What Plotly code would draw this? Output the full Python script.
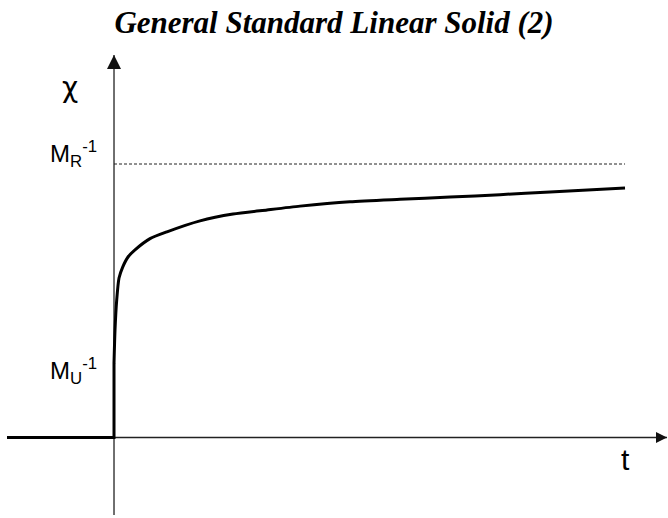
import plotly.graph_objects as go

# Creep compliance curve chi(t) (t in arbitrary units, chi normalised so that 1/M_R = 1)
t_vals = [-2.094, 0.0, 0.0, 0.0196, 0.053, 0.098, 0.170, 0.274, 0.411, 0.705, 1.037,
          1.683, 2.329, 2.994, 3.640, 4.618, 5.597, 6.575, 7.554, 8.532, 10.0]
chi_vals = [0.0, 0.0, 0.272, 0.393, 0.503, 0.583, 0.623, 0.660, 0.686, 0.727, 0.752,
            0.792, 0.817, 0.832, 0.846, 0.862, 0.871, 0.879, 0.888, 0.898, 0.912]

M_R_inv = 1.0      # relaxed compliance level
M_U_inv = 0.247    # unrelaxed compliance level
t_max = 10.0

x_axis_span = [-2.094, 10.822]
y_axis_span = [-0.283, 1.3985]

fig = go.Figure()

# axes lines
fig.add_trace(go.Scatter(x=x_axis_span, y=[0, 0], mode="lines",
                         line=dict(color="#222222", width=1.3),
                         hoverinfo="skip", showlegend=False))
fig.add_trace(go.Scatter(x=[0, 0], y=y_axis_span, mode="lines",
                         line=dict(color="#222222", width=1.3),
                         hoverinfo="skip", showlegend=False))
# arrow heads
fig.add_trace(go.Scatter(x=[x_axis_span[1]], y=[0], mode="markers",
                         marker=dict(symbol="arrow-right", size=11, color="#111111",
                                     line=dict(width=0)),
                         hoverinfo="skip", showlegend=False))
fig.add_trace(go.Scatter(x=[0], y=[y_axis_span[1]], mode="markers",
                         marker=dict(symbol="arrow-up", size=14, color="#111111",
                                     line=dict(width=0)),
                         hoverinfo="skip", showlegend=False))

# dashed asymptote at 1/M_R
fig.add_trace(go.Scatter(x=[0, t_max], y=[M_R_inv, M_R_inv], mode="lines",
                         line=dict(color="#222222", width=1, dash="3px,2px"),
                         hoverinfo="skip", showlegend=False))
# curve: step part (linear) and creep part (smooth)
fig.add_trace(go.Scatter(x=t_vals[:3], y=chi_vals[:3], mode="lines",
                         line=dict(color="black", width=3),
                         hoverinfo="skip", showlegend=False))
fig.add_trace(go.Scatter(x=t_vals[2:], y=chi_vals[2:], mode="lines",
                         line=dict(color="black", width=3, shape="spline", smoothing=0.6),
                         hoverinfo="skip", showlegend=False))

annotations = [
    dict(x=-0.861, y=1.2815, xref="x", yref="y", text="χ", showarrow=False,
         font=dict(family="DejaVu Sans", size=28, color="black")),
    dict(x=-0.30, y=1.035, xref="x", yref="y", xanchor="right",
         text="M<sub>R</sub><sup>-1</sup>", showarrow=False,
         font=dict(family="Liberation Sans", size=24, color="black")),
    dict(x=-0.30, y=0.245, xref="x", yref="y", xanchor="right",
         text="M<sub>U</sub><sup>-1</sup>", showarrow=False,
         font=dict(family="Liberation Sans", size=24, color="black")),
    dict(x=10.0, y=-0.082, xref="x", yref="y", text="t", showarrow=False,
         font=dict(family="Liberation Sans", size=30, color="black")),
]

fig.update_layout(
    width=668, height=518,
    margin=dict(l=0, r=0, t=0, b=0),
    paper_bgcolor="white", plot_bgcolor="white",
    xaxis=dict(range=[-2.231, 10.841], visible=False),
    yaxis=dict(range=[-0.2943, 1.5996], visible=False),
    title=dict(text="<b><i>General Standard Linear Solid (2)</i></b>",
               x=0.5, xanchor="center", y=1 - 22 / 518, yref="container",
               yanchor="middle",
               font=dict(family="Liberation Serif", size=31, color="black")),
    annotations=annotations,
    showlegend=False,
)

fig.write_html("out.html", config={"displayModeBar": False},
               post_script="document.body.style.margin='0px';")
